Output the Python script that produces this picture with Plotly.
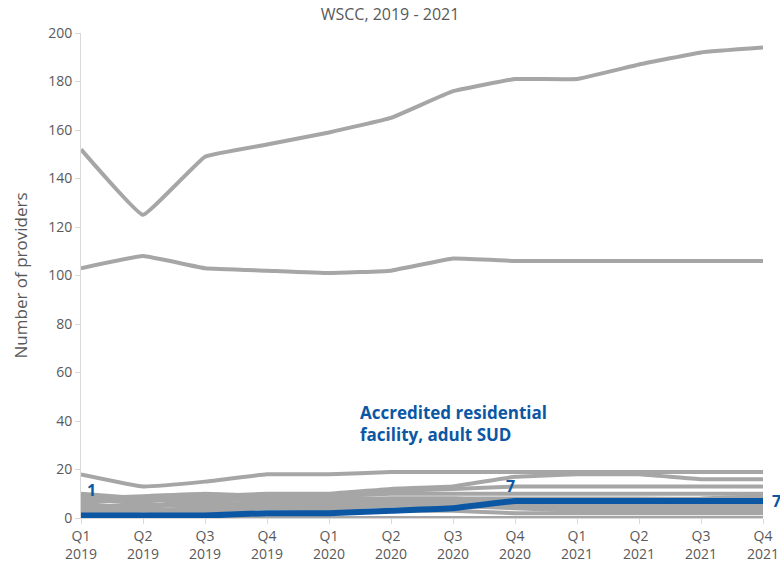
import plotly.graph_objects as go

quarters = ["Q1<br>2019", "Q2<br>2019", "Q3<br>2019", "Q4<br>2019",
            "Q1<br>2020", "Q2<br>2020", "Q3<br>2020", "Q4<br>2020",
            "Q1<br>2021", "Q2<br>2021", "Q3<br>2021", "Q4<br>2021"]

gray_series = {
    "Type A": [152, 125, 149, 154, 159, 165, 176, 181, 181, 187, 192, 194],
    "Type B": [103, 108, 103, 102, 101, 102, 107, 106, 106, 106, 106, 106],
    "Type C": [18, 13, 15, 18, 18, 19, 19, 19, 19, 19, 19, 19],
    "Type D": [9, 8, 9, 10, 10, 12, 13, 17, 18, 18, 16, 16],
    "Type E": [8, 9, 10, 9, 9, 11, 12, 13, 13, 13, 13, 13],
    "Type F": [10, 8, 7, 8, 9, 10, 10, 10, 10, 10, 10, 10],
    "Type G": [7, 7, 8, 8, 8, 8, 8, 8, 8, 8, 8, 9],
    "Type H": [6, 8, 5, 7, 7, 8, 8, 7, 7, 7, 7, 7],
    "Type I": [5, 5, 6, 6, 6, 7, 7, 6, 5, 5, 5, 5],
    "Type J": [4, 6, 4, 5, 5, 6, 6, 5, 4, 4, 4, 4],
    "Type K": [3, 4, 3, 4, 4, 5, 5, 4, 3, 3, 3, 3],
    "Type L": [2, 3, 2, 2, 3, 3, 3, 2, 2, 2, 2, 2],
    "Type M": [0, 0, 0, 0, 0, 0, 0, 0, 0, 0, 0, 0],
}
highlight_name = "Accredited residential<br>facility, adult SUD"
highlight_values = [1, 1, 1, 2, 2, 3, 4, 7, 7, 7, 7, 7]

y_ticks = [0, 20, 40, 60, 80, 100, 120, 140, 160, 180, 200]

GRAY = "#A6A6A6"
BLUE = "#0B57A4"
TEXT = "#595959"
FONT = "Open Sans"

x_idx = list(range(len(quarters)))
fig = go.Figure()
for name, vals in gray_series.items():
    fig.add_trace(go.Scatter(x=x_idx, y=vals, mode="lines", name=name,
                             line=dict(color=GRAY, width=4, shape="spline", smoothing=0.25),
                             showlegend=False))
fig.add_trace(go.Scatter(x=x_idx, y=highlight_values, mode="lines", name="highlight",
                         line=dict(color=BLUE, width=6, shape="spline", smoothing=0.25),
                         showlegend=False))

# data labels: (index, xshift, yshift in px, upward positive, anchor)
for i, dx, dy, anc in [(0, 10, 26, "center"), (7, -5, 15, "center"), (11, 7, 0, "left")]:
    fig.add_annotation(x=x_idx[i], y=highlight_values[i], text=str(highlight_values[i]),
                       showarrow=False, xshift=dx, yshift=dy,
                       font=dict(family=FONT, size=16, color=BLUE, weight="bold"),
                       xanchor=anc, yanchor="middle")

fig.add_annotation(x=4.47, y=39, text=highlight_name, showarrow=False, align="left",
                   xanchor="left", yanchor="middle",
                   font=dict(family=FONT, size=17, color=BLUE, weight="bold"))

fig.update_layout(
    width=780, height=574,
    margin=dict(l=81, r=17, t=33, b=56),
    plot_bgcolor="white", paper_bgcolor="white",
    title=dict(text="WSCC, 2019 - 2021", x=0.5, xanchor="center", y=0.975, yanchor="middle",
               font=dict(family=FONT, size=16, color=TEXT)),
    font=dict(family=FONT, color=TEXT),
)
fig.update_xaxes(range=[0, 11], tickvals=x_idx, ticktext=quarters, automargin=False,
                 showgrid=False, zeroline=False, showline=True, linecolor="#D9D9D9",
                 linewidth=1, ticks="outside", ticklen=5, tickcolor="#D9D9D9",
                 tickfont=dict(family=FONT, size=14, color=TEXT))
fig.update_yaxes(range=[0, 200], tickvals=y_ticks, showgrid=False, zeroline=False,
                 automargin=False,
                 showline=True, linecolor="#D9D9D9", linewidth=1, ticks="outside",
                 ticklen=5, tickcolor="#D9D9D9",
                 tickfont=dict(family=FONT, size=14, color=TEXT),
                 title=dict(text="Number of providers", standoff=16,
                            font=dict(family=FONT, size=17, color=TEXT)))

fig.write_html("out.html", config={"displayModeBar": False},
               post_script="document.body.style.margin='0';document.body.style.overflow='hidden';")
